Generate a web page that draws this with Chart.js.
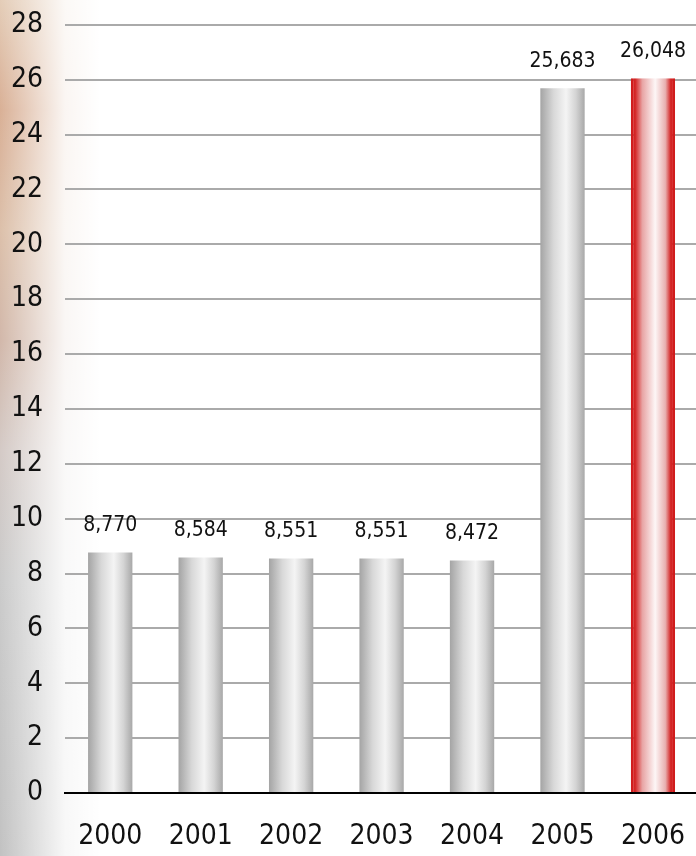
<!DOCTYPE html>
<html>
<head>
<meta charset="utf-8">
<script src="https://cdn.jsdelivr.net/npm/chart.js@4"></script>
<style>
    html, body { margin: 0; padding: 0; width: 696px; height: 856px; overflow: hidden; background: #fff; }
    .bg-left {
        position: absolute; left: 0; top: 0; width: 140px; height: 856px;
        background:
            linear-gradient(to right, rgba(255,255,255,0) 0px, rgba(255,255,255,0.4) 30px, rgba(255,255,255,0.88) 65px, #fff 100px),
            linear-gradient(to bottom, #e4cdb8 0px, #d9b096 110px, #dcc0aa 230px, #d2b8aa 340px, #d4cac6 450px, #cbcbcb 580px, #c2c2c2 856px);
    }
    #wrap { position: absolute; left: 0; top: -14px; width: 712px; height: 870px; }
</style>
</head>
<body>
<div class="bg-left"></div>
<div id="wrap"><canvas id="chart"></canvas></div>
<script>
    /* ========================================================
       DATA
    ======================================================== */
    const years   = ['2000', '2001', '2002', '2003', '2004', '2005', '2006'];
    const values  = [8.770, 8.584, 8.551, 8.551, 8.472, 25.683, 26.048];
    const valueLabels = ['8,770', '8,584', '8,551', '8,551', '8,472', '25,683', '26,048'];
    const yTicks  = [0, 2, 4, 6, 8, 10, 12, 14, 16, 18, 20, 22, 24, 26, 28];

    const FONT = "'DejaVu Sans Condensed', 'Liberation Sans Narrow', sans-serif";
    const BAR_FRACTION = 0.49;
    const HIGHLIGHT = 6;

    /* ========================================================
       BAR GRADIENTS
    ======================================================== */
    function barFill(c) {
        const chart = c.chart;
        const xs = chart.scales.x;
        if (!xs || !chart.chartArea) return '#cccccc';
        const cx = xs.getPixelForValue(c.dataIndex);
        const w  = (xs.width / years.length) * BAR_FRACTION;
        const g  = chart.ctx.createLinearGradient(cx - w / 2, 0, cx + w / 2, 0);
        if (c.dataIndex === HIGHLIGHT) {
            g.addColorStop(0.00, '#d01c1c');
            g.addColorStop(0.10, '#d42626');
            g.addColorStop(0.26, '#e8a4a4');
            g.addColorStop(0.55, '#fdf6f6');
            g.addColorStop(0.78, '#e8b0b0');
            g.addColorStop(0.90, '#d42626');
            g.addColorStop(1.00, '#d01c1c');
        } else {
            g.addColorStop(0.00, '#a4a4a4');
            g.addColorStop(0.30, '#d8d8d8');
            g.addColorStop(0.58, '#f4f4f4');
            g.addColorStop(0.80, '#d4d4d4');
            g.addColorStop(1.00, '#a8a8a8');
        }
        return g;
    }

    /* ========================================================
       VALUE LABELS
    ======================================================== */
    const valueLabelPlugin = {
        id: 'valueLabels',
        afterDatasetsDraw(chart) {
            const ctx  = chart.ctx;
            const meta = chart.getDatasetMeta(0);
            ctx.save();
            ctx.fillStyle    = '#111';
            ctx.font         = '21px ' + FONT;
            ctx.textAlign    = 'center';
            ctx.textBaseline = 'middle';
            meta.data.forEach((bar, i) => {
                ctx.fillText(valueLabels[i], bar.x, bar.y - 27);
            });
            ctx.restore();
        }
    };

    const ctx = document.getElementById('chart').getContext('2d');
    new Chart(ctx, {
        type: 'bar',
        data: {
            labels: years,
            datasets: [{
                data: values,
                backgroundColor: barFill,
                borderColor: '#d01c1c',
                borderWidth: c => c.dataIndex === HIGHLIGHT ? { left: 3, right: 3, top: 0, bottom: 0 } : 0,
                borderSkipped: false,
                barPercentage: 1,
                categoryPercentage: BAR_FRACTION
            }]
        },
        options: {
            responsive: true,
            maintainAspectRatio: false,
            animation: false,
            layout: { padding: { top: 11, right: 0, bottom: 0, left: 0 } },
            plugins: {
                legend: { display: false },
                tooltip: { enabled: false }
            },
            scales: {
                x: {
                    grid: { display: false, drawTicks: false },
                    border: { display: true, color: '#000', width: 2 },
                    ticks: { color: '#111', font: { family: FONT, size: 28 }, padding: 27 },
                    afterFit(scale) { scale.height = 63; }
                },
                y: {
                    min: 0,
                    max: 28,
                    afterBuildTicks(scale) { scale.ticks = yTicks.map(v => ({ value: v })); },
                    grid: { color: '#aaaaaa', lineWidth: 2, drawTicks: false },
                    border: { display: false },
                    ticks: { color: '#111', font: { family: FONT, size: 28 }, padding: 22 },
                    afterFit(scale) { scale.width = 65; }
                }
            }
        },
        plugins: [valueLabelPlugin]
    });
</script>
</body>
</html>
